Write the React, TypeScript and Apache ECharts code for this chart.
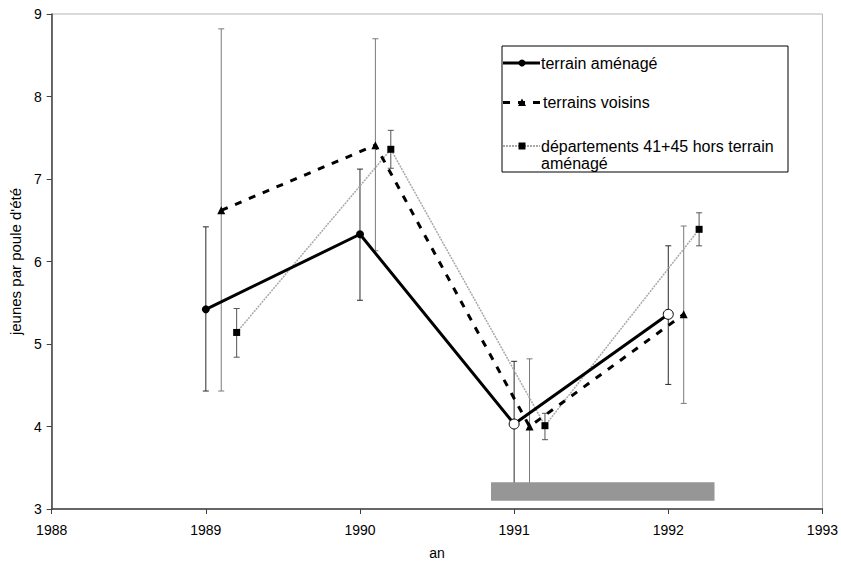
import React, { useEffect, useRef } from "react";
import * as echarts from "echarts";

// ---- data ----
const xTickLabels = ["1988", "1989", "1990", "1991", "1992", "1993"];
const yTickLabels = ["3", "4", "5", "6", "7", "8", "9"];

const seriesNames = [
  "terrain aménagé",
  "terrains voisins",
  "départements 41+45 hors terrain aménagé",
];

// x positions (years, with the small offsets used in the original)
const amenageX = [1989, 1990, 1991, 1992];
const voisinsX = [1989.1, 1990.1, 1991.1, 1992.1];
const departX = [1989.2, 1990.2, 1991.2, 1992.2];

// means
const amenageY = [5.42, 6.33, 4.03, 5.36];
const voisinsY = [6.62, 7.41, 4.0, 5.36];
const departY = [5.14, 7.36, 4.01, 6.39];

// error bar ends
const amenageLow = [4.43, 5.53, 3.27, 4.51];
const amenageHigh = [6.42, 7.12, 4.79, 6.19];
const voisinsLow = [4.43, 6.13, 3.17, 4.28];
const voisinsHigh = [8.82, 8.7, 4.82, 6.43];
const departLow = [4.84, 7.13, 3.84, 6.19];
const departHigh = [5.43, 7.59, 4.16, 6.59];

// hollow markers for terrain aménagé (1991, 1992)
const amenageHollow = [false, false, true, true];

// grey bar: [xStart, xEnd, yLow, yHigh]
const greyBar = [[1990.85, 1992.3, 3.1, 3.325]];

const FONT = "'Liberation Sans', Arial, Helvetica, sans-serif";

function errorBars(xs: number[], lows: number[], highs: number[], color: string, z: number) {
  return {
    type: "custom",
    silent: true,
    z,
    clip: false,
    encode: { x: 0, y: [1, 2] },
    data: xs.map((x, i) => [x, lows[i], highs[i]]),
    renderItem: (params: any, api: any) => {
      const x = api.value(0);
      const p1 = api.coord([x, api.value(1)]);
      const p2 = api.coord([x, api.value(2)]);
      const hw = 3;
      const st = { stroke: color, lineWidth: 1 };
      return {
        type: "group",
        children: [
          { type: "line", shape: { x1: p1[0], y1: p1[1], x2: p2[0], y2: p2[1] }, style: st },
          { type: "line", shape: { x1: p1[0] - hw, y1: p1[1], x2: p1[0] + hw, y2: p1[1] }, style: st },
          { type: "line", shape: { x1: p2[0] - hw, y1: p2[1], x2: p2[0] + hw, y2: p2[1] }, style: st },
        ],
      };
    },
  };
}

export default function App() {
  const ref = useRef<HTMLDivElement>(null);

  useEffect(() => {
    if (!ref.current) return;
    const chart = echarts.init(ref.current, undefined, { renderer: "svg" });

    const lx = 502;
    const ly = 46;
    const legend = {
      type: "group",
      z: 100,
      children: [
        {
          type: "rect",
          shape: { x: lx, y: ly, width: 286, height: 126 },
          style: { fill: "#fff", stroke: "#000", lineWidth: 1 },
        },
        // item 1
        { type: "line", shape: { x1: lx + 1, y1: 63, x2: lx + 38, y2: 63 }, style: { stroke: "#000", lineWidth: 3 } },
        { type: "circle", shape: { cx: lx + 20, cy: 63, r: 3.5 }, style: { fill: "#000" } },
        {
          type: "text",
          style: { text: seriesNames[0], x: lx + 39, y: 63, font: `16px ${FONT}`, fill: "#000", verticalAlign: "middle" },
        },
        // item 2
        {
          type: "line",
          shape: { x1: lx + 1, y1: 102.5, x2: lx + 38, y2: 102.5 },
          style: { stroke: "#000", lineWidth: 3, lineDash: [7, 8] },
        },
        { type: "polygon", shape: { points: [[lx + 20, 98.5], [lx + 24, 106], [lx + 16, 106]] }, style: { fill: "#000" } },
        {
          type: "text",
          style: { text: seriesNames[1], x: lx + 41, y: 102.5, font: `16px ${FONT}`, fill: "#000", verticalAlign: "middle" },
        },
        // item 3
        {
          type: "line",
          shape: { x1: lx + 1, y1: 146, x2: lx + 38, y2: 146 },
          style: { stroke: "#a8a8a8", lineWidth: 2, lineDash: [2, 1] },
        },
        { type: "rect", shape: { x: lx + 16.5, y: 142.5, width: 7, height: 7 }, style: { fill: "#000" } },
        {
          type: "text",
          style: {
            text: "départements 41+45 hors terrain\naménagé",
            x: lx + 39,
            y: 137.5,
            font: `16px ${FONT}`,
            lineHeight: 17,
            fill: "#000",
            verticalAlign: "top",
          },
        },
      ],
    };

    const option: any = {
      animation: false,
      backgroundColor: "#fff",
      textStyle: { fontFamily: FONT },
      grid: {
        left: 48,
        right: 16,
        top: 14,
        bottom: 49,
        show: true,
        borderColor: "#b4b4b4",
        borderWidth: 1,
      },
      xAxis: {
        type: "value",
        min: 1988,
        max: 1993,
        interval: 1,
        name: "an",
        nameLocation: "middle",
        nameGap: 37,
        nameTextStyle: { fontSize: 14, color: "#000", fontFamily: FONT },
        axisLine: { show: true, lineStyle: { color: "#404040", width: 1.5 } },
        axisTick: { show: true, length: 5, lineStyle: { color: "#404040" } },
        splitLine: { show: false },
        axisLabel: {
          fontSize: 14,
          color: "#000",
          margin: 14,
          fontFamily: FONT,
          formatter: (v: number) => xTickLabels[Math.round(v - 1988)] ?? String(v),
        },
      },
      yAxis: {
        type: "value",
        min: 3,
        max: 9,
        interval: 1,
        name: "jeunes par poule d'été",
        nameLocation: "middle",
        nameGap: 22,
        nameRotate: 90,
        nameTextStyle: { fontSize: 15, color: "#000", fontFamily: FONT },
        axisLine: { show: true, lineStyle: { color: "#404040", width: 1.5 } },
        axisTick: { show: true, length: 5, lineStyle: { color: "#404040" } },
        splitLine: { show: false },
        axisLabel: {
          fontSize: 14,
          color: "#000",
          margin: 10,
          fontFamily: FONT,
          formatter: (v: number) => yTickLabels[Math.round(v - 3)] ?? String(v),
        },
      },
      series: [
        errorBars(departX, departLow, departHigh, "#555", 1),
        errorBars(voisinsX, voisinsLow, voisinsHigh, "#7a7a7a", 1),
        errorBars(amenageX, amenageLow, amenageHigh, "#2a2a2a", 1),
        {
          name: seriesNames[2],
          type: "line",
          z: 3,
          data: departX.map((x, i) => [x, departY[i]]),
          symbol: "rect",
          symbolSize: 7,
          itemStyle: { color: "#000" },
          lineStyle: { color: "#a8a8a8", width: 1.5, type: [2, 1] },
        },
        {
          name: seriesNames[1],
          type: "line",
          z: 4,
          data: voisinsX.map((x, i) => [x, voisinsY[i]]),
          symbol: "triangle",
          symbolSize: 8,
          itemStyle: { color: "#000" },
          lineStyle: { color: "#000", width: 3, type: [7, 8] },
        },
        {
          name: seriesNames[0],
          type: "line",
          z: 5,
          data: amenageX.map((x, i) => ({
            value: [x, amenageY[i]],
            symbolSize: amenageHollow[i] ? 10 : 8,
            itemStyle: amenageHollow[i]
              ? { color: "#fff", borderColor: "#000", borderWidth: 1 }
              : { color: "#000" },
          })),
          symbol: "circle",
          lineStyle: { color: "#000", width: 3 },
        },
        {
          type: "custom",
          silent: true,
          z: 6,
          encode: { x: [0, 1], y: [2, 3] },
          data: greyBar,
          renderItem: (params: any, api: any) => {
            const a = api.coord([api.value(0), api.value(3)]);
            const b = api.coord([api.value(1), api.value(2)]);
            return {
              type: "rect",
              shape: { x: a[0], y: a[1], width: b[0] - a[0], height: b[1] - a[1] },
              style: { fill: "#969696" },
            };
          },
        },
      ],
      graphic: [legend],
    };

    chart.setOption(option);
    return () => chart.dispose();
  }, []);

  return (
    <div
      ref={ref}
      style={{ position: "absolute", left: 0, top: 0, width: 841, height: 565, background: "#fff" }}
    />
  );
}
